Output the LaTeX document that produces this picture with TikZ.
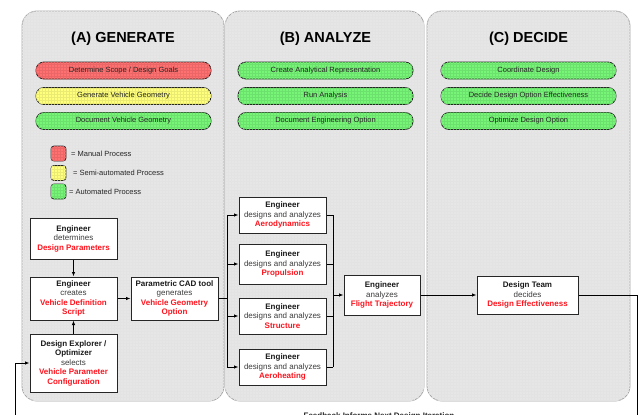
\documentclass[tikz,border=0pt]{standalone}
\usepackage{fontspec}
\setmainfont{Liberation Sans}
\usetikzlibrary{arrows.meta,patterns}
\definecolor{manualred}{RGB}{255,112,112}
\definecolor{semiyellow}{RGB}{255,255,125}
\definecolor{autogreen}{RGB}{118,245,118}
\definecolor{panelgray}{RGB}{230,230,230}
\definecolor{boxred}{RGB}{255,20,30}
\definecolor{bodygray}{RGB}{60,60,60}
\newcommand{\hl}[1]{\textcolor{boxred}{\textbf{#1}}}
\newcommand{\actor}[1]{\textcolor{black!90}{\textbf{#1}}}
\tikzset{
  panel/.style={draw=gray!70, line width=0.8pt, rounded corners=15pt, fill=panelgray,
    postaction={pattern=grid, pattern color=gray!22}},
  paneltitle/.style={font=\fontsize{14.5}{16}\selectfont\bfseries},
  pill/.style={draw=black!85, line width=0.8pt, rounded corners=8pt, minimum width=175pt,
    minimum height=17pt, inner sep=0pt, fill=#1, postaction={pattern=grid, pattern color=#1!92!black},
    font=\fontsize{7.5}{9}\selectfont, text=black!85},
  legendbox/.style={draw=black!85, line width=0.8pt, rounded corners=3pt, minimum size=15pt,
    inner sep=0pt, fill=#1, postaction={pattern=grid, pattern color=#1!92!black}},
  legendtext/.style={anchor=west, inner sep=0pt, font=\fontsize{7.5}{9}\selectfont, text=black!85},
  stepbox/.style={draw=black!85, line width=1pt, fill=white, align=center, inner sep=2pt,
    font=\fontsize{8}{9.5}\selectfont, text=bodygray},
  flow/.style={line width=0.8pt, -{Latex[length=4.5pt,width=3.5pt]}},
  busline/.style={line width=0.8pt}
}
\begin{document}
\begin{tikzpicture}[x=1pt,y=-1pt]
\useasboundingbox (0,0) rectangle (640,415);
\clip (0,0) rectangle (640,415);
\draw[panel] (22,11) rectangle (224,401);
\draw[panel] (225,11) rectangle (424,401);
\draw[panel] (427,11) rectangle (630,401);
\node[paneltitle] (titleA) at (123,39) {(A) GENERATE};
\node[paneltitle] (titleB) at (325.5,39) {(B) ANALYZE};
\node[paneltitle] (titleC) at (528.5,39) {(C) DECIDE};
\node[pill=manualred] (scope) at (123.5,70.5) {Determine Scope / Design Goals};
\node[pill=semiyellow] (geom) at (123.5,96) {Generate Vehicle Geometry};
\node[pill=autogreen] (docgeom) at (123.5,121) {Document Vehicle Geometry};
\node[pill=autogreen] (represent) at (325.5,70.5) {Create Analytical Representation};
\node[pill=autogreen] (run) at (325.5,96) {Run Analysis};
\node[pill=autogreen] (docopt) at (325.5,121) {Document Engineering Option};
\node[pill=autogreen] (coord) at (528.5,70.5) {Coordinate Design};
\node[pill=autogreen] (effect) at (528.5,96) {Decide Design Option Effectiveness};
\node[pill=autogreen] (optim) at (528.5,121) {Optimize Design Option};
\node[legendbox=manualred] (lgmanual) at (58.5,153.5) {};
\node[legendbox=semiyellow] (lgsemi) at (58.5,173) {};
\node[legendbox=autogreen] (lgauto) at (58.5,191.5) {};
\node[legendtext] (lgmanualtxt) at (71,153.5) {= Manual Process};
\node[legendtext] (lgsemitxt) at (73,173) {= Semi-automated Process};
\node[legendtext] (lgautotxt) at (69,191.5) {= Automated Process};
\node[stepbox, minimum width=87pt, minimum height=41pt] (params) at (73.5,238.5)
  {\actor{Engineer}\\determines\\\hl{Design Parameters}};
\node[stepbox, minimum width=87pt, minimum height=43pt] (script) at (73.5,298.5)
  {\actor{Engineer}\\creates\\\hl{Vehicle Definition}\\\hl{Script}};
\node[stepbox, minimum width=87pt, minimum height=58pt] (explorer) at (73.5,363)
  {\actor{Design Explorer /}\\\actor{Optimizer}\\selects\\\hl{Vehicle Parameter}\\\hl{Configuration}};
\node[stepbox, minimum width=87pt, minimum height=43pt] (cad) at (174.5,298.5)
  {\actor{Parametric CAD tool}\\generates\\\hl{Vehicle Geometry}\\\hl{Option}};
\node[stepbox, minimum width=87pt, minimum height=36pt] (aero) at (282.5,215)
  {\actor{Engineer}\\designs and analyzes\\\hl{Aerodynamics}};
\node[stepbox, minimum width=87pt, minimum height=40pt] (prop) at (282.5,264)
  {\actor{Engineer}\\designs and analyzes\\\hl{Propulsion}};
\node[stepbox, minimum width=87pt, minimum height=36pt] (struct) at (282.5,316)
  {\actor{Engineer}\\designs and analyzes\\\hl{Structure}};
\node[stepbox, minimum width=87pt, minimum height=36pt] (heat) at (282.5,367)
  {\actor{Engineer}\\designs and analyzes\\\hl{Aeroheating}};
\node[stepbox, minimum width=76pt, minimum height=40pt] (traj) at (382,295)
  {\actor{Engineer}\\analyzes\\\hl{Flight Trajectory}};
\node[stepbox, minimum width=101pt, minimum height=38pt] (team) at (527.5,295)
  {\actor{Design Team}\\decides\\\hl{Design Effectiveness}};
\coordinate (busA) at (227,298.5);
\coordinate (busB) at (333,295);
\coordinate (fbR) at (637,425);
\coordinate (fbL) at (15,425);
\draw[flow] (params) -- (script);
\draw[flow] (explorer) -- (script);
\draw[flow] (script) -- (cad);
\draw[busline] (cad) -- (busA);
\draw[busline] (busA |- aero.west) -- (busA |- heat.west);
\foreach \b in {aero,prop,struct,heat}
  \draw[flow] (busA |- \b.west) -- (\b.west);
\foreach \b in {aero,prop,struct,heat}
  \draw[busline] (\b.east) -- (busB |- \b.east);
\draw[busline] (busB |- aero.east) -- (busB |- heat.east);
\draw[flow] (busB) -- (traj);
\draw[flow] (traj) -- (team);
\draw[flow] (team.east) -| (fbR) -- (fbL) |- (explorer.west);
\node[font=\fontsize{8}{9.5}\selectfont\bfseries, anchor=base, text=black!85] (fbnote) at (379,418.5)
  {Feedback Informs Next Design Iteration};
\end{tikzpicture}
\end{document}
